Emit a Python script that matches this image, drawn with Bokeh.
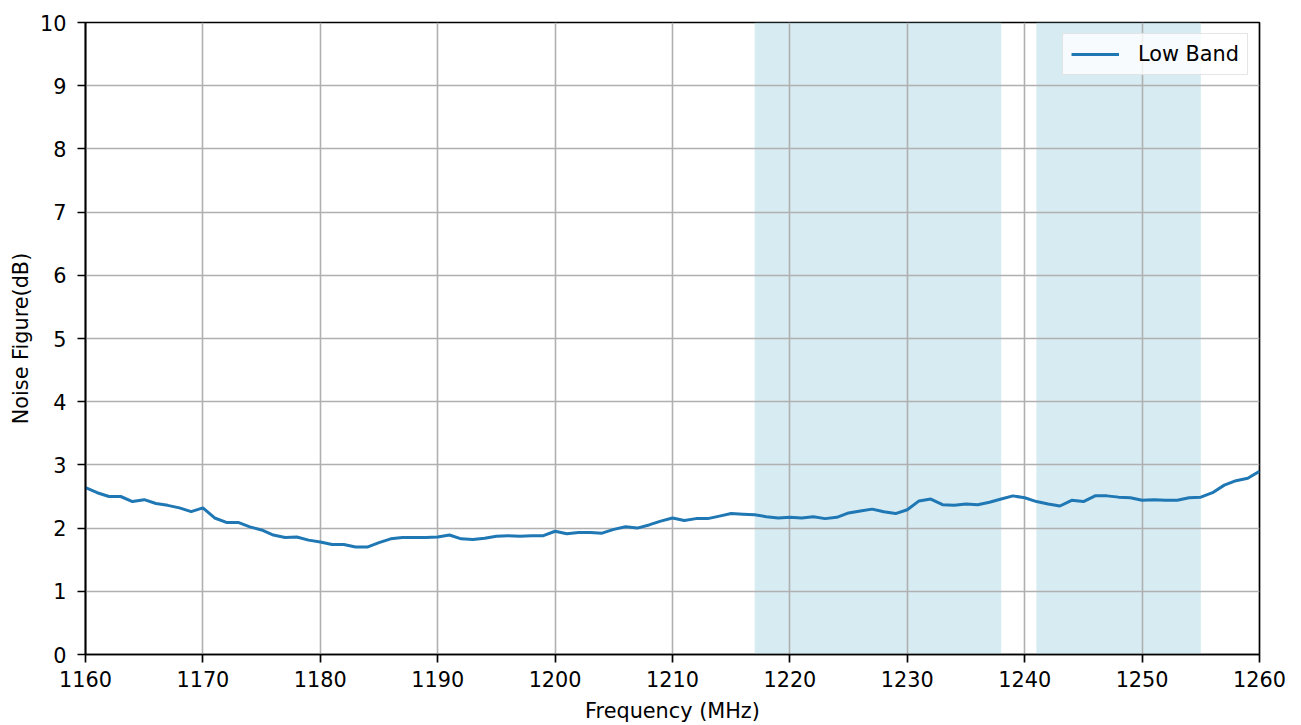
from bokeh.plotting import figure
from bokeh.models import FixedTicker, ColumnDataSource, Legend, LegendItem
from bokeh.embed import file_html
from bokeh.resources import INLINE

freq_mhz = list(range(1160, 1261))
noise_figure_db = [
    2.64, 2.56, 2.50, 2.50, 2.42, 2.45, 2.39, 2.36, 2.32, 2.26,
    2.32, 2.16, 2.09, 2.09, 2.02, 1.97, 1.89, 1.85, 1.86, 1.81,
    1.78, 1.74, 1.74, 1.70, 1.70, 1.77, 1.83, 1.85, 1.85, 1.85,
    1.86, 1.89, 1.83, 1.82, 1.84, 1.87, 1.88, 1.87, 1.88, 1.88,
    1.95, 1.91, 1.93, 1.93, 1.92, 1.98, 2.02, 2.00, 2.05, 2.11,
    2.16, 2.12, 2.15, 2.15, 2.19, 2.23, 2.22, 2.21, 2.18, 2.16,
    2.17, 2.16, 2.18, 2.15, 2.17, 2.24, 2.27, 2.30, 2.26, 2.23,
    2.29, 2.43, 2.46, 2.37, 2.36, 2.38, 2.37, 2.41, 2.46, 2.51,
    2.48, 2.42, 2.38, 2.35, 2.44, 2.42, 2.51, 2.51, 2.49, 2.48,
    2.44, 2.45, 2.44, 2.44, 2.48, 2.49, 2.56, 2.68, 2.75, 2.79,
    2.90,
]
band_starts = [1217, 1241]
band_ends = [1238, 1255]
x_ticks = list(range(1160, 1261, 10))
y_ticks = list(range(0, 11))
series_name = "Low Band"

FONT = "DejaVu Sans"
FS = "20.8px"

p = figure(
    width=1301, height=725,
    x_range=(1160, 1260), y_range=(0, 10),
    output_backend="svg", toolbar_location=None,
    min_border_left=85, min_border_right=42,
    min_border_top=22, min_border_bottom=70,
)
p.background_fill_color = "white"
p.border_fill_color = "white"
p.outline_line_color = "black"
p.outline_line_width = 1.7

bands = ColumnDataSource(dict(left=band_starts, right=band_ends))
p.quad(left="left", right="right", bottom=0, top=10, source=bands,
       fill_color="#add8e6", fill_alpha=0.5, line_color=None, level="image")

src = ColumnDataSource(dict(x=freq_mhz, y=noise_figure_db))
r = p.line("x", "y", source=src, line_color="#1f77b4", line_width=3)

p.xaxis.ticker = FixedTicker(ticks=x_ticks)
p.yaxis.ticker = FixedTicker(ticks=y_ticks)
p.xaxis.axis_label = "Frequency (MHz)"
p.yaxis.axis_label = "Noise Figure(dB)"

for ax in (p.xaxis, p.yaxis):
    ax.axis_label_text_font = FONT
    ax.axis_label_text_font_size = FS
    ax.axis_label_text_font_style = "normal"
    ax.axis_label_text_color = "black"
    ax.major_label_text_font = FONT
    ax.major_label_text_font_size = FS
    ax.major_label_text_color = "black"
    ax.axis_line_color = "black"
    ax.axis_line_width = 1.7
    ax.major_tick_line_color = "black"
    ax.major_tick_line_width = 1.7
    ax.major_tick_out = 8
    ax.major_tick_in = 0
    ax.minor_tick_line_color = None

p.xaxis.major_label_standoff = 8
p.xaxis.axis_label_standoff = 9
p.yaxis.major_label_standoff = 11
p.yaxis.axis_label_standoff = 4

p.grid.grid_line_color = "#b0b0b0"
p.grid.grid_line_width = 1.6

legend = Legend(items=[LegendItem(label=series_name, renderers=[r])],
                location="top_right")
legend.margin = 11
legend.padding = 8
legend.spacing = 0
legend.glyph_width = 48
legend.glyph_height = 24
legend.label_height = 24
legend.label_standoff = 19
legend.label_text_font = FONT
legend.label_text_font_size = FS
legend.label_text_color = "black"
legend.border_line_color = "#cccccc"
legend.border_line_width = 1.2
legend.background_fill_color = "white"
legend.background_fill_alpha = 0.8
p.add_layout(legend, "center")

open("out.html", "w").write(file_html(p, INLINE))
